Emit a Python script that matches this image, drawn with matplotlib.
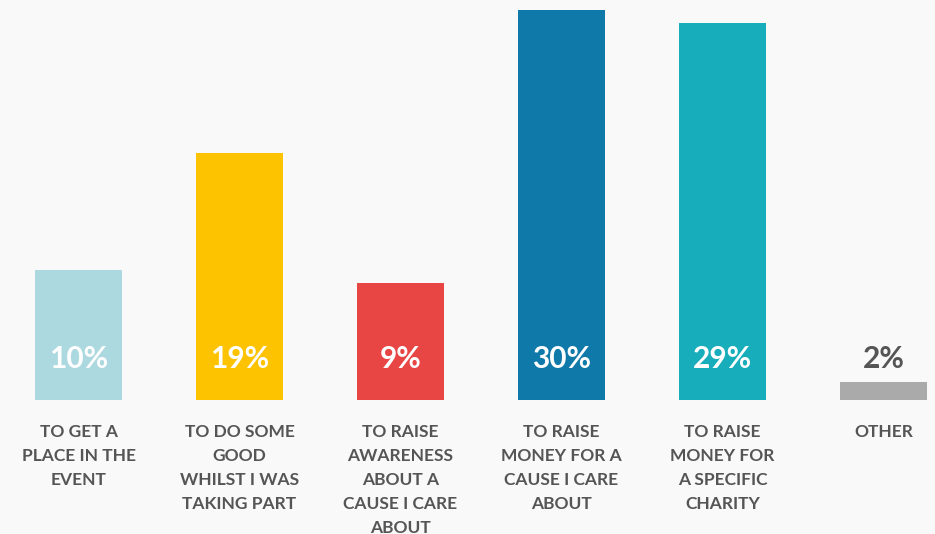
import numpy as np
import matplotlib.pyplot as plt

# ── Data ──────────────────────────────────────────────────────────────────────
categories = [
    "TO GET A\nPLACE IN THE\nEVENT",
    "TO DO SOME\nGOOD\nWHILST I WAS\nTAKING PART",
    "TO RAISE\nAWARENESS\nABOUT A\nCAUSE I CARE\nABOUT",
    "TO RAISE\nMONEY FOR A\nCAUSE I CARE\nABOUT",
    "TO RAISE\nMONEY FOR\nA SPECIFIC\nCHARITY",
    "OTHER",
]
values = [10, 19, 9, 30, 29, 1.4]
value_labels = ["10%", "19%", "9%", "30%", "29%", "2%"]
colors = ["#acd8df", "#fdc300", "#e84545", "#0f79aa", "#17adba", "#aaaaaa"]

BG = "#f9f9f9"
TXT = "#555555"
W, H = 935, 534

plt.rcParams["font.family"] = ["Lato", "DejaVu Sans"]

fig = plt.figure(figsize=(W / 100, H / 100), dpi=100, facecolor=BG)
# axes spans the full width, bottom at 134 px from bottom of figure
ax = fig.add_axes([0, 134 / H, 1, 400 / H])
ax.set_facecolor(BG)

x = np.arange(len(values))
step = 161
ax.bar(x, values, width=87 / step, color=colors)

ax.set_xlim(-78.5 / step, (W - 78.5) / step)
ax.set_ylim(0, 400 / 13)

label_y = (400 - 359) / 13
for i, (v, lab) in enumerate(zip(values, value_labels)):
    c = "white" if v > label_y + 2 else TXT
    ax.text(i, label_y, lab, ha="center", va="center", color=c,
            fontsize=21.5, fontweight="bold")

for i, cat in enumerate(categories):
    ax.annotate(cat, xy=(i, 0), xytext=(0, -17), textcoords="offset points",
                ha="center", va="top", color=TXT, fontsize=12.5, fontweight="bold",
                linespacing=1.63, annotation_clip=False)

ax.axis("off")

fig.savefig("out.png", dpi=100, facecolor=BG)
